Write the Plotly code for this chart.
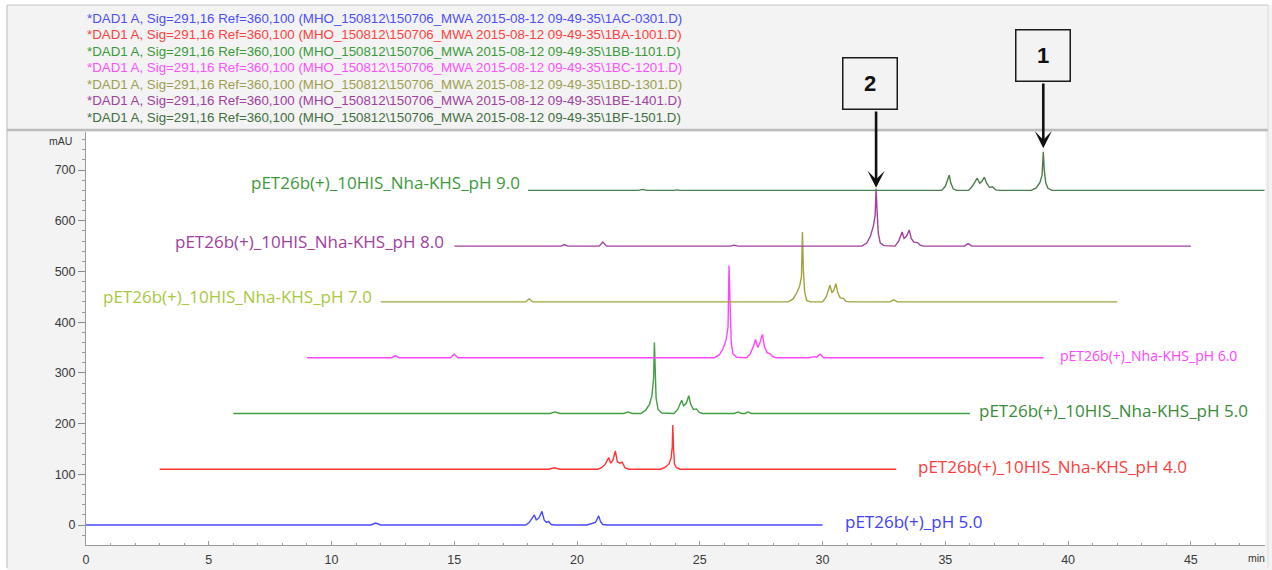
import plotly.graph_objects as go

# ---- chromatogram traces (retention time in min, absorbance in mAU, stacked) ----
t_1AC = [0, 11.6, 11.8, 12.0, 17.9, 18.05, 18.18, 18.26, 18.34, 18.45, 18.57, 18.66, 18.75, 18.84,
         18.95, 19.1, 20.4, 20.6, 20.75, 20.88, 20.96, 21.05, 21.2, 30]
a_1AC = [0, 0, 4, 0, 0, 5, 14, 20, 10, 14, 27, 10, 5, 7,
         1, 0, 0, 3, 5, 18, 6, 1, 0, 0]

t_1BA = [3, 18.85, 19.07, 19.3, 20.85, 21.0, 21.15, 21.29, 21.37, 21.46, 21.56, 21.64, 21.74, 21.84,
         21.95, 22.1, 23.4, 23.6, 23.75, 23.83, 23.88, 23.9, 23.93, 23.97, 24.05, 24.2, 33]
a_1BA = [110, 110, 113, 110, 110, 113, 120, 133, 122, 128, 146, 125, 122, 124,
         113, 110, 110, 114, 121, 132, 155, 197, 150, 120, 113, 110, 110]

t_1BB = [6, 18.9, 19.1, 19.3, 21.9, 22.07, 22.25, 22.6, 22.8, 22.95, 23.05, 23.12, 23.15, 23.18,
         23.22, 23.3, 23.45, 23.95, 24.1, 24.26, 24.34, 24.45, 24.55, 24.63, 24.74, 24.86, 24.98,
         25.1, 26.4, 26.56, 26.7, 26.85, 26.96, 27.1, 36]
a_1BB = [220, 220, 223, 220, 220, 223, 220, 220, 227, 238, 255, 290, 360, 300,
         250, 228, 221, 220, 228, 246, 235, 240, 255, 238, 228, 229, 222,
         220, 220, 223, 220, 220, 223, 220, 220]

t_1BC = [9, 12.45, 12.6, 12.75, 14.85, 15.0, 15.15, 25.6, 25.8, 25.95, 26.07, 26.15, 26.19, 26.23,
         26.28, 26.35, 26.5, 26.9, 27.05, 27.18, 27.27, 27.36, 27.45, 27.55, 27.63, 27.74, 27.85,
         27.97, 28.1, 29.45, 29.65, 29.75, 29.9, 30.05, 39]
a_1BC = [330, 330, 334, 330, 330, 337, 330, 330, 336, 348, 365, 390, 512, 420,
         360, 338, 331, 330, 337, 352, 366, 350, 360, 376, 352, 340, 338,
         332, 330, 330, 332, 331, 337, 330, 330]

t_1BD = [12, 17.9, 18.05, 18.2, 28.6, 28.8, 28.95, 29.07, 29.14, 29.18, 29.22, 29.27, 29.35, 29.5,
         30.0, 30.15, 30.3, 30.38, 30.45, 30.54, 30.62, 30.72, 30.84, 30.95, 31.1, 32.75, 32.9,
         33.05, 42]
a_1BD = [440, 440, 446, 440, 440, 446, 458, 472, 490, 578, 500, 460, 443, 440,
         440, 450, 473, 458, 462, 476, 458, 448, 447, 441, 440, 440, 444,
         440, 440]

t_1BE = [15, 19.35, 19.49, 19.62, 20.9, 21.05, 21.2, 26.25, 26.39, 26.55, 31.6, 31.8, 31.95, 32.07,
         32.14, 32.18, 32.22, 32.27, 32.35, 32.5, 32.95, 33.1, 33.24, 33.32, 33.42, 33.53, 33.61,
         33.72, 33.86, 33.98, 34.1, 35.78, 35.93, 36.08, 45]
a_1BE = [550, 550, 553, 550, 550, 558, 550, 550, 552, 550, 550, 556, 570, 590,
         610, 663, 620, 575, 556, 551, 550, 560, 578, 565, 570, 582, 565,
         558, 557, 552, 550, 550, 555, 550, 550]

t_1BF = [18, 22.5, 22.67, 22.85, 23.95, 24.06, 24.2, 34.85, 35.0, 35.1, 35.16, 35.22, 35.32, 35.45,
         35.95, 36.1, 36.3, 36.4, 36.49, 36.59, 36.68, 36.8, 36.92, 37.05, 37.2, 38.5, 38.7,
         38.85, 38.94, 38.99, 39.03, 39.09, 39.18, 39.35, 48]
a_1BF = [660, 660, 662, 660, 660, 661, 660, 660, 668, 680, 690, 675, 663, 660,
         660, 668, 684, 674, 678, 686, 674, 666, 667, 661, 660, 660, 665,
         675, 690, 736, 700, 675, 664, 660, 660]

sample_names = [
    "pET26b(+)_pH 5.0",
    "pET26b(+)_10HIS_Nha-KHS_pH 4.0",
    "pET26b(+)_10HIS_Nha-KHS_pH 5.0",
    "pET26b(+)_Nha-KHS_pH 6.0",
    "pET26b(+)_10HIS_Nha-KHS_pH 7.0",
    "pET26b(+)_10HIS_Nha-KHS_pH 8.0",
    "pET26b(+)_10HIS_Nha-KHS_pH 9.0",
]
data_files = ["1AC-0301.D", "1BA-1001.D", "1BB-1101.D", "1BC-1201.D",
              "1BD-1301.D", "1BE-1401.D", "1BF-1501.D"]
x_ticks = [0, 5, 10, 15, 20, 25, 30, 35, 40, 45]
y_ticks = [0, 100, 200, 300, 400, 500, 600, 700]

# peak markers: (label, retention time, arrow tip in mAU)
markers = [("2", 32.18, 665), ("1", 38.99, 743)]

# ---- styling ----
line_colors = ["#4848ff", "#ff3434", "#3f9f3f", "#ff44ff", "#a3a23e", "#a042a0", "#4d7d4d"]
label_colors = ["#4040ff", "#ff3c3c", "#3a8c3a", "#ff44ff", "#a8c840", "#a040a0", "#3c9a3c"]
header_colors = ["#4d4dff", "#ff4040", "#3a9a3a", "#ff50ff", "#9e9e4e", "#a040a0", "#3f6f3f"]

W, H = 1272, 570
ML, MR, MT, MB = 86, 7, 132, 25
PW, PH = W - ML - MR, H - MT - MB
Y_RANGE = [-39.4, 775.1]


def xp(px):
    return (px - ML) / PW


def yp(py):
    return (H - MB - py) / PH


traces = [(t_1AC, a_1AC), (t_1BA, a_1BA), (t_1BB, a_1BB), (t_1BC, a_1BC),
          (t_1BD, a_1BD), (t_1BE, a_1BE), (t_1BF, a_1BF)]

fig = go.Figure()
for (t, a), col, name in zip(traces, line_colors, sample_names):
    fig.add_trace(go.Scatter(x=t, y=a, mode="lines", name=name,
                             line=dict(color=col, width=1.4),
                             hoverinfo="skip", showlegend=False))

annotations = []

# sample labels: left of the trace start for the upper three, right of the end otherwise
label_font = "Open Sans, Liberation Sans, sans-serif"
label_side = ["right", "right", "right", "right", "left", "left", "left"]
label_gap = [0.83, 0.8, 0.3, 0.6, 0.25, 0.35, 0.25]
label_lift = [6, 6, 6, 4, 10, 9, 15]
for (t, a), name, col, side, gap, lift in zip(traces, sample_names, label_colors,
                                               label_side, label_gap, label_lift):
    small = name.endswith("6.0")
    if side == "right":
        x, anchor = t[-1] + gap, "left"
    else:
        x, anchor = t[0] - gap, "right"
    annotations.append(dict(x=x, y=a[0] + lift, xref="x", yref="y", text=name,
                            showarrow=False, xanchor=anchor, yanchor="middle",
                            font=dict(family=label_font, size=14 if small else 17, color=col)))

# signal description header
for i, (f, col) in enumerate(zip(data_files, header_colors)):
    annotations.append(dict(
        x=xp(85), y=yp(18.5 + 16.45 * i), xref="paper", yref="paper",
        text="*DAD1 A, Sig=291,16 Ref=360,100 (MHO_150812\\150706_MWA 2015-08-12 09-49-35\\" + f + ")",
        showarrow=False, xanchor="left", yanchor="middle",
        font=dict(family="Liberation Sans, Arial, sans-serif", size=13.3, color=col)))

# numbered boxes with arrows pointing at peaks
box_px = {"2": (869.5, 83, 110), "1": (1042.5, 55.5, 82)}
for lab, rt, tip in markers:
    cx, cy, bottom = box_px[lab]
    annotations.append(dict(x=xp(cx), y=yp(cy), xref="paper", yref="paper",
                            text="<b>%s</b>" % lab, showarrow=False,
                            xanchor="center", yanchor="middle",
                            width=53, height=50, borderpad=0, borderwidth=1.5,
                            bordercolor="#1a1a1a", bgcolor="#f3f3f3",
                            font=dict(family="Liberation Sans, Arial, sans-serif",
                                      size=22, color="#111111")))
    tip_py = (H - MB) - (tip - Y_RANGE[0]) / (Y_RANGE[1] - Y_RANGE[0]) * PH
    annotations.append(dict(x=rt, y=tip, xref="x", yref="y", text="",
                            showarrow=True, ax=0, ay=-(tip_py - bottom),
                            axref="pixel", ayref="pixel",
                            arrowhead=3, arrowsize=1.1, arrowwidth=2.6,
                            arrowcolor="#111111", standoff=0, startstandoff=0))

# axis unit labels
annotations.append(dict(x=xp(60.5), y=yp(141), xref="paper", yref="paper", text="mAU",
                        showarrow=False, xanchor="center", yanchor="middle",
                        font=dict(family="Liberation Sans, Arial", size=10.5, color="#333")))
annotations.append(dict(x=xp(1256), y=yp(558), xref="paper", yref="paper", text="min",
                        showarrow=False, xanchor="center", yanchor="middle",
                        font=dict(family="Liberation Sans, Arial", size=10.5, color="#333")))

frame = "#c4c4c4"
shapes = [
    # white outer margin
    dict(type="rect", xref="paper", yref="paper", x0=xp(0), x1=xp(W), y0=yp(0), y1=yp(5),
         fillcolor="white", line=dict(width=0), layer="below"),
    dict(type="rect", xref="paper", yref="paper", x0=xp(0), x1=xp(7), y0=yp(0), y1=yp(H),
         fillcolor="white", line=dict(width=0), layer="below"),
    # panel frame
    dict(type="line", xref="paper", yref="paper", x0=xp(7), x1=xp(1268), y0=yp(5), y1=yp(5),
         line=dict(color=frame, width=1.2)),
    dict(type="line", xref="paper", yref="paper", x0=xp(7), x1=xp(7), y0=yp(5), y1=yp(568),
         line=dict(color=frame, width=1.2)),
    dict(type="line", xref="paper", yref="paper", x0=xp(1268), x1=xp(1268), y0=yp(5), y1=yp(568),
         line=dict(color="#dddddd", width=1)),
    dict(type="line", xref="paper", yref="paper", x0=xp(7), x1=xp(1268), y0=yp(130), y1=yp(130),
         line=dict(color="#bcbcbc", width=2.5)),
]

axis_font = dict(family="Liberation Sans, Arial, sans-serif", size=12.5, color="#3a3a3a")
fig.update_layout(
    width=W, height=H,
    margin=dict(l=ML, r=MR, t=MT, b=MB, pad=0, autoexpand=False),
    paper_bgcolor="#f3f3f3", plot_bgcolor="white",
    annotations=annotations, shapes=shapes,
    xaxis=dict(range=[0, 48.02], tickvals=x_ticks, ticks="inside", ticklen=4,
               tickcolor="#9a9a9a", showline=True, linecolor="#9a9a9a", linewidth=1,
               showgrid=False, zeroline=False, tickfont=axis_font, ticklabelstandoff=3,
               automargin=False,
               minor=dict(dtick=1, ticks="inside", ticklen=2, tickcolor="#9a9a9a")),
    yaxis=dict(range=Y_RANGE, tickvals=y_ticks, ticks="outside", ticklen=7,
               tickcolor="#8a8a8a", showline=True, linecolor="#9a9a9a", linewidth=1,
               showgrid=False, zeroline=False, tickfont=axis_font, automargin=False,
               minor=dict(dtick=20, ticks="outside", ticklen=3, tickcolor="#9a9a9a")),
)

fig.write_html("out.html")
